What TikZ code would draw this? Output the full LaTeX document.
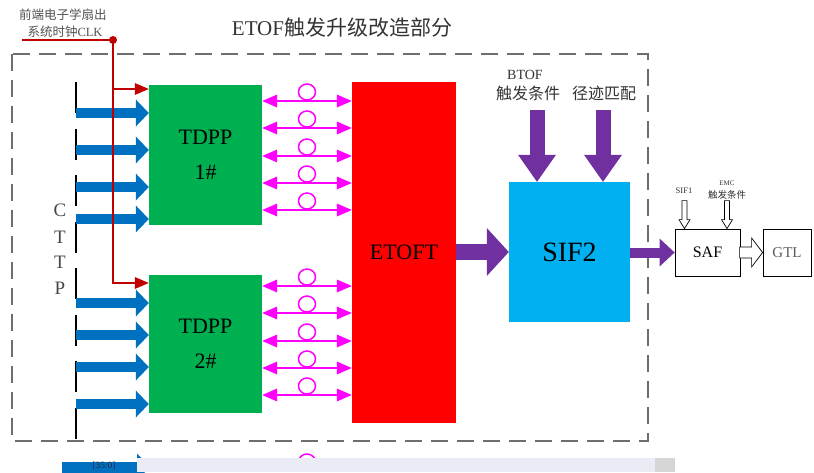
\documentclass[tikz,border=0pt]{standalone}
\usepackage{fontspec}
\setmainfont{Liberation Serif}
\newfontfamily\cjk{Noto Sans CJK SC}
\usetikzlibrary{arrows.meta,calc}
\definecolor{cgreen}{HTML}{00B050}
\definecolor{cblue}{HTML}{0070C0}
\definecolor{cred}{HTML}{FF0000}
\definecolor{ccyan}{HTML}{00B0F0}
\definecolor{cpurple}{HTML}{7030A0}
\definecolor{cmag}{HTML}{FF00FF}
\definecolor{cclk}{HTML}{C00000}
\definecolor{cframe}{HTML}{6E6E6E}
\definecolor{ctext}{HTML}{333333}
\definecolor{clav}{HTML}{E9ECF4}
\definecolor{clavedge}{HTML}{D6D6D6}
\definecolor{cnavy}{HTML}{1F2A44}
\tikzset{
  fbox/.style={draw=none, inner sep=0pt, align=center, text=black},
  wbox/.style={draw=black, line width=0.8pt, fill=white, inner sep=0pt, align=center},
  lbl/.style={inner sep=0pt, text=ctext},
  bluearr/.style={draw=cblue, line width=10pt, -{Triangle[length=13pt,width=27pt,line width=0pt]}},
  magarr/.style={draw=cmag, line width=1.5pt, {Triangle[length=15pt,width=13pt,line width=0pt]}-{Triangle[length=15pt,width=13pt,line width=0pt]}},
  magcirc/.style={draw=cmag, line width=1.5pt},
  purpbig/.style={draw=cpurple, line width=16pt, -{Triangle[length=22pt,width=48pt,line width=0pt]}},
  purpdown/.style={draw=cpurple, line width=15pt, -{Triangle[length=27pt,width=38pt,line width=0pt]}},
  purpsmall/.style={draw=cpurple, line width=10pt, -{Triangle[length=15pt,width=28pt,line width=0pt]}},
  clkline/.style={draw=cclk, line width=1.2pt},
  clkarr/.style={draw=cclk, line width=1.2pt, -{Triangle[length=14pt,width=12pt,line width=0pt]}},
  hollow/.style={draw=black, line width=0.7pt, fill=white, line join=miter},
  frame/.style={draw=cframe, line width=1.6pt, dash pattern=on 17pt off 9pt},
}
\begin{document}
\begin{tikzpicture}[x=1pt,y=-1pt]
\useasboundingbox (0,0) rectangle (814,472);

% frame
\draw[frame] (12,54) rectangle (648,441);

% title
\node[lbl, font=\fontsize{21}{24}\selectfont] (title) at (342,28) {ETOF{\cjk 触发升级改造部分}};

% clock text
\node[lbl, text=ctext!85, font=\fontsize{12.5}{14}\selectfont\cjk] (clk1) at (63,15) {前端电子学扇出};
\node[lbl, text=ctext!85, font=\fontsize{12.5}{14}\selectfont] (clk2) at (65,32) {{\cjk 系统时钟}CLK};

% boxes
\node[fbox, fill=cgreen, minimum width=113pt, minimum height=140pt, font=\fontsize{22}{35}\selectfont] (tdpp1) at (205.5,155) {TDPP\\1\#};
\node[fbox, fill=cgreen, minimum width=113pt, minimum height=138pt, font=\fontsize{22}{35}\selectfont] (tdpp2) at (205.5,344) {TDPP\\2\#};
\node[fbox, fill=cred, minimum width=104pt, minimum height=341pt, font=\fontsize{22}{26}\selectfont] (etoft) at (404,252.5) {ETOFT};
\node[fbox, fill=ccyan, minimum width=121pt, minimum height=140pt, font=\fontsize{28}{32}\selectfont] (sif2) at (569.5,252) {SIF2};
\node[wbox, minimum width=65pt, minimum height=47pt, font=\fontsize{16}{18}\selectfont] (saf) at (707.5,252.5) {SAF};
\node[wbox, minimum width=48pt, minimum height=47pt, font=\fontsize{15}{18}\selectfont, text=ctext!80] (gtl) at (787,252.5) {GTL};

% CTTP
\foreach \c/\yy [count=\i] in {C/210,T/237,T/262,P/288}
  \node[lbl, text=ctext!90, font=\fontsize{19}{20}\selectfont] (cttp\i) at (60,\yy) {\c};

% black dashed vertical line
\coordinate (vtop) at (76,82);
\coordinate (vbot) at (76,441);
\draw[black, line width=2pt, dash pattern=on 31pt off 15.5pt] (vtop) -- (vbot);

% blue arrows
\foreach \yy [count=\i] in {113,150,187,219} {
  \coordinate (ba\i) at (76,\yy);
  \draw[bluearr] (ba\i) -- (tdpp1.west |- ba\i);
}
\foreach \yy [count=\i] in {303,335,367,404} {
  \coordinate (bb\i) at (76,\yy);
  \draw[bluearr] (bb\i) -- (tdpp2.west |- bb\i);
}

% clock lines
\coordinate (clkL) at (22,40);
\node[circle, fill=cclk, inner sep=0pt, minimum size=8pt] (dot) at (113,40) {};
\coordinate (br1) at (113,89);
\coordinate (br2) at (113,283);
\draw[clkline] (clkL) -- (dot.center);
\draw[clkarr] (dot.center) -- (br2) -- (tdpp2.west |- br2);
\draw[clkarr] (br1) -- (tdpp1.west |- br1);

% magenta double arrows
\foreach \yy in {101,128,156,183,210,286,313,341,368,395} {
  \draw[magarr] (tdpp1.east |- 0,\yy) -- (etoft.west |- 0,\yy);
  \draw[magcirc] (307,{\yy-9}) ellipse[x radius=8.5pt, y radius=8pt];
}

% purple arrows
\draw[purpbig] (etoft.east |- sif2.west) -- (sif2.west);
\coordinate (pd1) at (537,110);
\coordinate (pd2) at (603,110);
\draw[purpdown] (pd1) -- (sif2.north -| pd1);
\draw[purpdown] (pd2) -- (sif2.north -| pd2);
\draw[purpsmall] (sif2.east |- saf.west) -- (saf.west);

% labels over purple arrows
\node[lbl, font=\fontsize{14}{16}\selectfont] (btof) at (525,75) {BTOF};
\node[lbl, font=\fontsize{16}{18}\selectfont\cjk] (btofc) at (528,93) {触发条件};
\node[lbl, font=\fontsize{16}{18}\selectfont\cjk] (jjpp) at (604,93) {径迹匹配};

% SAF inputs
\node[lbl, font=\fontsize{8.5}{10}\selectfont] (sif1) at (684,191) {SIF1};
\node[lbl, font=\fontsize{7}{8}\selectfont] (emc) at (727,183) {EMC};
\node[lbl, font=\fontsize{9.5}{11}\selectfont\cjk] (emcc) at (727,195) {触发条件};

\coordinate (h1) at (saf.north -| 684.5,0);
\coordinate (h2) at (saf.north -| 727,0);
\foreach \h in {h1,h2}
  \draw[hollow] ($(\h)+(-2.5,-28)$) -- ($(\h)+(-2.5,-9)$) -- ($(\h)+(-5.5,-9)$) -- (\h) -- ($(\h)+(5.5,-9)$) -- ($(\h)+(2.5,-9)$) -- ($(\h)+(2.5,-28)$) -- cycle;

% SAF -> GTL hollow arrow
\coordinate (h3) at (gtl.west |- saf.east);
\draw[hollow] ($(h3)+(-23,-5.5)$) -- ($(h3)+(-11,-5.5)$) -- ($(h3)+(-11,-14.5)$) -- (h3) -- ($(h3)+(-11,14.5)$) -- ($(h3)+(-11,5.5)$) -- ($(h3)+(-23,5.5)$) -- cycle;

% bottom strip (cut-off part of the next picture)
\fill[cblue] (62,462) rectangle (137,478);
\fill[cblue] (137,453.5) -- (150,467) -- (137,480.5) -- cycle;
\draw[magcirc] (307,462) ellipse[x radius=8.5pt, y radius=8pt];
\fill[clav] (137,458) rectangle (655,472);
\fill[clavedge] (655,458) rectangle (675,472);
\node[lbl, text=cnavy, font=\fontsize{9.5}{10}\selectfont] (bits) at (104,466) {[35:0]};
\end{tikzpicture}
\end{document}
